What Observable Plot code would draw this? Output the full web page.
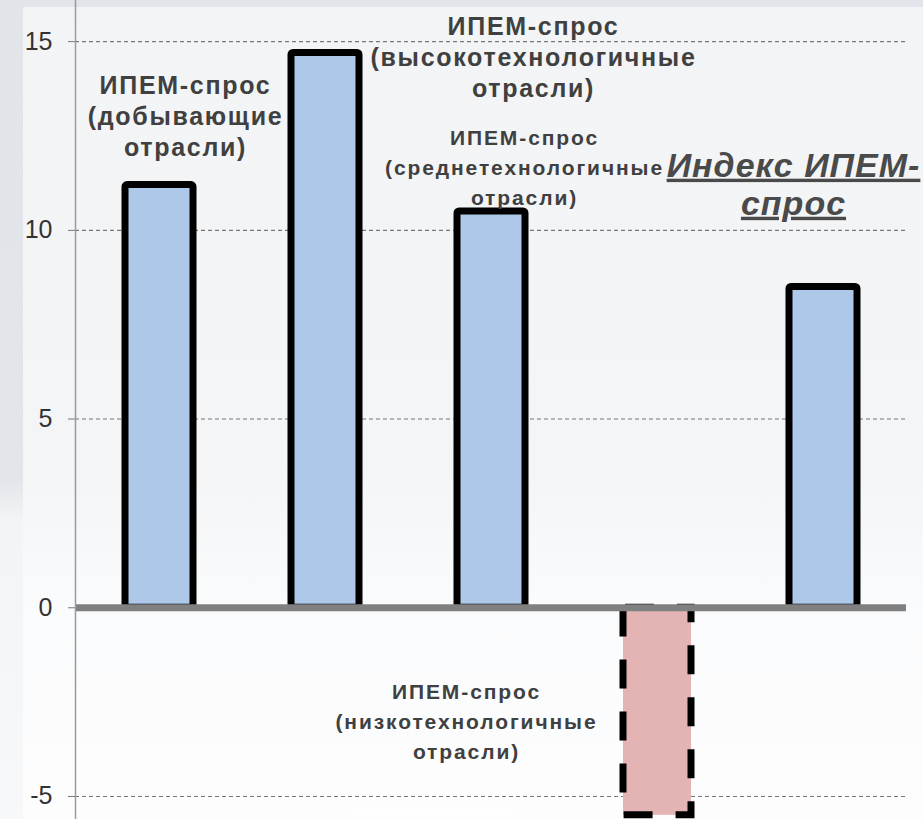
<!DOCTYPE html>
<html>
<head>
<meta charset="utf-8">
<script src="https://cdn.jsdelivr.net/npm/d3@7"></script>
<script src="https://cdn.jsdelivr.net/npm/@observablehq/plot@0.6"></script>
<style>
html, body { margin: 0; padding: 0; }
body {
  width: 923px; height: 819px; overflow: hidden;
  background:
    radial-gradient(ellipse 560px 420px at 430px 1020px, rgba(255,255,255,0.95), rgba(255,255,255,0) 75%),
    linear-gradient(to bottom, #f3f4f6 0px, #f4f5f7 470px, #fafbfc 600px, #fdfdfe 812px) 23px 7px / 900px 812px no-repeat,
    linear-gradient(to bottom, #e1e4e9 0px, #e2e5ea 480px, #f3f4f6 520px, #f7f8f9 819px);
}
#chart svg { display: block; }
</style>
</head>
<body>
<div id="chart"></div>
<script>
// ---- data ----
const categories = [
  "ИПЕМ-спрос\n(добывающие\nотрасли)",
  "ИПЕМ-спрос\n(высокотехнологичные\nотрасли)",
  "ИПЕМ-спрос\n(среднетехнологичные\nотрасли)",
  "ИПЕМ-спрос\n(низкотехнологичные\nотрасли)",
  "Индекс ИПЕМ-\nспрос"
];
const values = [11.2, 14.7, 10.5, -5.5, 8.5];
const yTicks = [-5, 0, 5, 10, 15];

const rows = categories.map((c, i) => ({cat: c, value: values[i]}));
const pos = rows.filter(d => d.value >= 0);
const neg = rows.filter(d => d.value < 0);

const font = "'Liberation Sans', Arial, sans-serif";
const txt = "#404040";

const labelStyle = {fill: txt, fontWeight: "bold", fontFamily: font, lineAnchor: "middle", textAnchor: "middle"};

const plot = Plot.plot({
  width: 923,
  height: 819,
  marginLeft: 75,
  marginRight: 17,
  marginTop: 0,
  marginBottom: 0,
  style: {background: "transparent", fontFamily: font},
  x: {type: "band", domain: categories, padding: 0, axis: null},
  y: {domain: [-5.61, 16.09], ticks: yTicks, label: null},
  marks: [
    Plot.gridY(yTicks, {stroke: "#777", strokeOpacity: 1, strokeDasharray: "4,3", strokeWidth: 1.1}),
    Plot.axisY(yTicks, {tickSize: 7, tickPadding: 16, stroke: "#777", fontSize: 25, fill: "#333", label: null, fontFamily: font, tickFormat: d => String(d)}),
    Plot.barY(pos, {x: "cat", y: "value", fill: "#adc8e8", stroke: "#000", strokeWidth: 7, insetLeft: 49, insetRight: 49, rx: 2}),
    Plot.barY(neg, {x: "cat", y: "value", fill: "#e4b4b4", stroke: "#000", strokeWidth: 7, strokeDasharray: "29,23", strokeDashoffset: 50, insetLeft: 49, insetRight: 49}),
    Plot.ruleY([0], {stroke: "#808080", strokeWidth: 7}),
    Plot.frame({anchor: "left", stroke: "#9a9a9a", strokeWidth: 1.5}),
    Plot.text([rows[0]], {x: "cat", y: () => 13.05, dx: 26, text: "cat", fontSize: 25, lineHeight: 1.23, ...labelStyle}),
    Plot.text([rows[1]], {x: "cat", y: () => 14.62, dx: 208, text: "cat", fontSize: 25, lineHeight: 1.23, ...labelStyle}),
    Plot.text([rows[2]], {x: "cat", y: () => 11.72, dx: 33, text: "cat", fontSize: 21, lineHeight: 1.43, ...labelStyle}),
    Plot.text([rows[3]], {x: "cat", y: () => -2.95, dx: -191, text: "cat", fontSize: 21, lineHeight: 1.43, ...labelStyle}),
    Plot.text([rows[4]], {x: "cat", y: () => 11.24, dx: -30, text: "cat", fontSize: 34, lineHeight: 1.12, fontStyle: "italic", ...labelStyle, fill: "#4a4a4a"})
  ]
});

document.getElementById("chart").appendChild(plot);

// text styling tweaks (letter spacing, underline)
const allText = d3.select(plot).selectAll("text");
allText.filter(function() {
  const t = this.textContent;
  return t.indexOf("добывающие") >= 0 || t.indexOf("высокотехнологичные") >= 0;
}).style("letter-spacing", "1.7px");
allText.filter(function() {
  const t = this.textContent;
  return t.indexOf("среднетехнологичные") >= 0 || t.indexOf("низкотехнологичные") >= 0;
}).style("letter-spacing", "1.9px");
allText.filter(function() { return this.textContent.indexOf("Индекс") >= 0; })
  .style("letter-spacing", "1px")
  .style("text-decoration", "underline")
  .style("text-decoration-thickness", "3px");
</script>
</body>
</html>
